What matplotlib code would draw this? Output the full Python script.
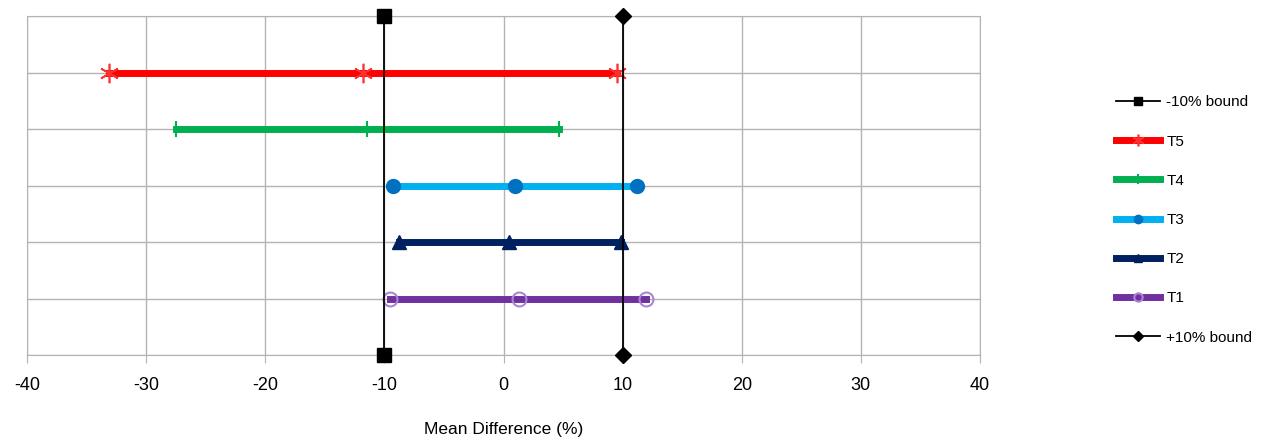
import matplotlib.pyplot as plt
import numpy as np

plt.rcParams['font.family'] = ['Liberation Sans', 'DejaVu Sans']
plt.rcParams['axes.unicode_minus'] = False

# series from top (T5) to bottom (T1): lower CI, mean, upper CI
names = ['T5', 'T4', 'T3', 'T2', 'T1']
rows = [5, 4, 3, 2, 1]
lower = [-33.1, -27.5, -9.3, -8.8, -9.5]
mean = [-11.8, -11.5, 1.0, 0.5, 1.3]
upper = [9.5, 4.7, 11.2, 9.9, 12.0]
line_colors = ['#FF0000', '#00B050', '#00B0F0', '#002060', '#7030A0']

bound_lo = -10
bound_hi = 10
x_ticks = [-40, -30, -20, -10, 0, 10, 20, 30, 40]

fig = plt.figure(figsize=(12.81, 4.42), dpi=100)
ax = fig.add_axes([27/1281, 1-355/442, (980-27)/1281, (355-16)/442])

ax.set_xlim(-40, 40)
ax.set_ylim(0, 6)
ax.set_xticks(x_ticks)
ax.set_yticks(range(0, 7))
ax.set_yticklabels([])
ax.tick_params(axis='y', length=0)
ax.tick_params(axis='x', length=6, color='#b3b3b3', labelsize=13, pad=10)
ax.grid(True, color='#b3b3b3', linewidth=1)
ax.set_axisbelow(True)
for s in ax.spines.values():
    s.set_color('#b3b3b3')

ax.set_xlabel('Mean Difference (%)', fontsize=12.5, labelpad=20)

handles = {}
h, = ax.plot([bound_lo, bound_lo], [0, 6], color='black', lw=1.3, marker='s',
             ms=10, clip_on=False, zorder=5, label='-10% bound')
handles['lo'] = h
h, = ax.plot([bound_hi, bound_hi], [0, 6], color='black', lw=1.3, marker='D',
             ms=8, clip_on=False, zorder=5, label='+10% bound')
handles['hi'] = h

styles = {
    'T5': dict(marker=(6, 2, 0), ms=14, mec='#FF3030', mew=1.2, mfc='none'),
    'T4': dict(marker='|', ms=12, mec='#00B050', mew=1.5),
    'T3': dict(marker='o', ms=10, mec='#0070C0', mfc='#0070C0'),
    'T2': dict(marker='^', ms=10, mec='#002060', mfc='#002060'),
    'T1': dict(marker='o', ms=10, mec='#a886d0', mfc='none', mew=1.5),
}

for n, r, lo, m, hi, c in zip(names, rows, lower, mean, upper, line_colors):
    h, = ax.plot([lo, m, hi], [r, r, r], color=c, lw=5, label=n, zorder=4,
                 **styles[n])
    handles[n] = h

order = [handles['lo']] + [handles[n] for n in names] + [handles['hi']]
leg = fig.legend(order, [o.get_label() for o in order], loc='center left',
                 bbox_to_anchor=(1102/1281, 1-220/442), frameon=False,
                 fontsize=11, labelspacing=1.65, handlelength=2.9,
                 handletextpad=0.4, markerscale=0.6)

fig.savefig('out.png', dpi=100)
